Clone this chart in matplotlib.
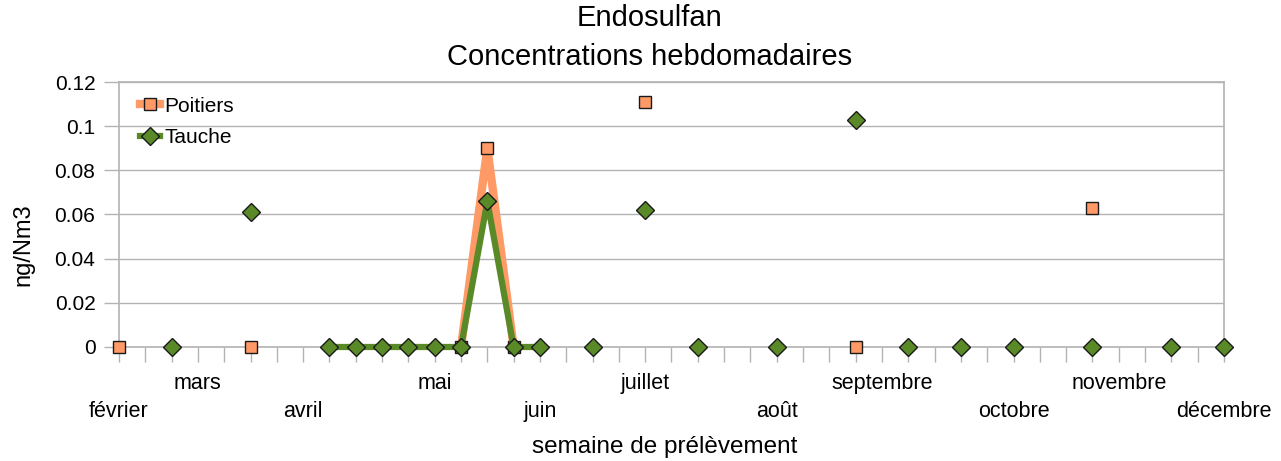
import numpy as np
import matplotlib
matplotlib.use("Agg")
import matplotlib.pyplot as plt

plt.rcParams['font.family'] = ['Liberation Sans', 'DejaVu Sans']

# ---- data ----
n_weeks = 43
week_index = list(range(n_weeks))

poitiers_weeks = [0, 5, 13, 14, 15, 20, 28, 37]
poitiers_vals = [0.0, 0.0, 0.0, 0.090, 0.0, 0.111, 0.0, 0.063]

tauche_weeks = [2, 5, 8, 9, 10, 11, 12, 13, 14, 15, 16, 18, 20, 22, 25, 28, 30, 32, 34, 37, 40, 42]
tauche_vals = [0.0, 0.061, 0.0, 0.0, 0.0, 0.0, 0.0, 0.0, 0.066, 0.0, 0.0, 0.0, 0.062, 0.0, 0.0,
               0.103, 0.0, 0.0, 0.0, 0.0, 0.0, 0.0]

month_weeks = [0, 3, 7, 12, 16, 20, 25, 29, 34, 38, 42]
month_names = ["février", "mars", "avril", "mai", "juin", "juillet", "août",
               "septembre", "octobre", "novembre", "décembre"]

y_ticks = [0, 0.02, 0.04, 0.06, 0.08, 0.1, 0.12]
y_tick_labels = ["0", "0.02", "0.04", "0.06", "0.08", "0.1", "0.12"]

# full series with gaps
poitiers = np.full(n_weeks, np.nan)
poitiers[poitiers_weeks] = poitiers_vals
tauche = np.full(n_weeks, np.nan)
tauche[tauche_weeks] = tauche_vals

ORANGE = "#FF9966"
GREEN = "#5A8A28"
GRID = "#B3B3B3"

fig = plt.figure(figsize=(12.81, 4.61), dpi=100)
ax = fig.add_axes([119 / 1281, 1 - 347 / 461, (1224 - 119) / 1281, (347 - 82) / 461])

ax.plot(week_index, poitiers, color=ORANGE, lw=6, marker='s', ms=9,
        markerfacecolor=ORANGE, markeredgecolor='#1a1a1a', markeredgewidth=1,
        label="Poitiers", zorder=3, clip_on=False)
ax.plot(week_index, tauche, color=GREEN, lw=4.5, marker='D', ms=9.5,
        markerfacecolor=GREEN, markeredgecolor='#1a1a1a', markeredgewidth=1,
        label="Tauche", zorder=4, clip_on=False)

ax.set_xlim(0, n_weeks - 1)
ax.set_ylim(0, 0.12)

ax.set_yticks(y_ticks)
ax.set_yticklabels(y_tick_labels, fontsize=15)
ax.yaxis.grid(True, color=GRID, lw=1)
ax.set_axisbelow(True)

labels = [""] * n_weeks
for k, (w, name) in enumerate(zip(month_weeks, month_names)):
    labels[w] = name if k % 2 == 1 else "\n" + name
ax.set_xticks(week_index)
ax.set_xticklabels(labels, fontsize=15.5)
for t in ax.get_xticklabels():
    t.set_linespacing(1.42)

ax.tick_params(axis='x', direction='out', length=11, width=1, color=GRID, pad=8)
ax.tick_params(axis='y', direction='out', length=11, width=1, color=GRID, pad=6)

for s in ax.spines.values():
    s.set_color(GRID)
    s.set_linewidth(1.2)

leg = ax.legend(loc='upper left', frameon=False, fontsize=15, handlelength=0.95,
                handletextpad=0.2, labelspacing=0.6, borderaxespad=0.3,
                bbox_to_anchor=(0.006, 1.0))

fig.text(649.5 / 1281, 1 - 18 / 461, "Endosulfan", ha='center', va='center', fontsize=21)
fig.text(649.5 / 1281, 1 - 57 / 461, "Concentrations hebdomadaires", ha='center', va='center', fontsize=21)
fig.text(665 / 1281, 1 - 447 / 461, "semaine de prélèvement", ha='center', va='center', fontsize=17.5)
fig.text(23 / 1281, 1 - 245 / 461, "ng/Nm3", ha='center', va='center', rotation=90, fontsize=17)

fig.savefig("out.png", dpi=100)
